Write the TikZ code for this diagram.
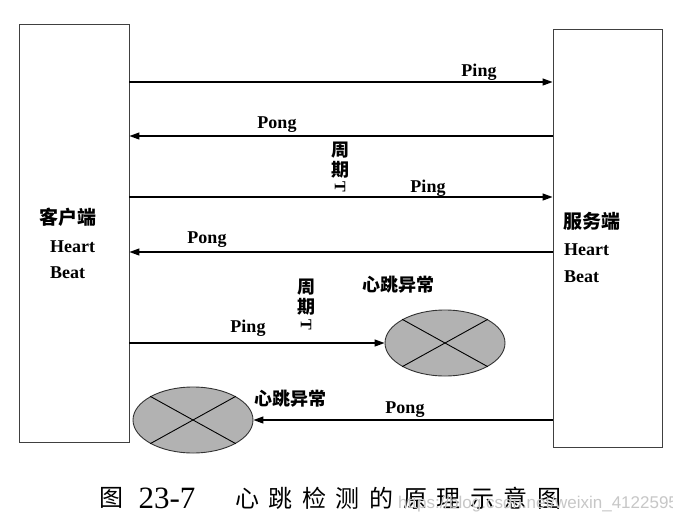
\documentclass[tikz,border=0pt]{standalone}
\usepackage{fontspec}
\setmainfont{Liberation Serif}
\setsansfont{Liberation Sans}
\newfontfamily\cjk{Noto Sans CJK SC}
\newfontfamily\capcjk{Noto Sans CJK SC}[LetterSpace=40]
\usetikzlibrary{arrows.meta,shapes.geometric,positioning}

\begin{document}
\begin{tikzpicture}[x=1pt,y=-1pt,
	box/.style={draw=black!75,line width=0.9pt,minimum width=110pt,minimum height=418pt,inner sep=0pt},
	msg/.style={line width=1.3pt,-{Triangle[length=10pt,width=7pt]}},
	lbl/.style={font=\fontsize{18}{18}\selectfont\bfseries,inner sep=0pt,anchor=base},
	side/.style={anchor=west,inner sep=0pt,font=\fontsize{18}{18}\selectfont\bfseries},
	tag/.style={font=\cjk\bfseries\fontsize{18}{20}\selectfont,inner sep=0pt},
	fail/.style={ellipse,draw=black!80,line width=0.9pt,fill=black!30,minimum width=120pt,minimum height=66pt}]
	\useasboundingbox[fill=white] (0,0) rectangle (673,515);

	\node[box] (client) at (74,233) {};
	\node[box,minimum width=109pt] (server) at (607.5,238) {};

	\node[side,font=\cjk\bfseries\fontsize{19}{19}\selectfont] (cname) at (39,217) {客户端};
	\node[side] (ch) at (50,247) {Heart};
	\node[side] (cb) at (50,273) {Beat};
	\node[side,font=\cjk\bfseries\fontsize{19}{19}\selectfont] (sname) at (563,221) {服务端};
	\node[side] (sh) at (564,250) {Heart};
	\node[side] (sb) at (564,277) {Beat};

	\node[fail] (fail1) at (445,343) {};
	\node[fail] (fail2) at (193,420) {};
	\draw[line width=0.9pt] (fail1.north west) -- (fail1.south east) (fail1.north east) -- (fail1.south west);
	\draw[line width=0.9pt] (fail2.north west) -- (fail2.south east) (fail2.north east) -- (fail2.south west);

	\coordinate (r1) at (0,82);
	\coordinate (r2) at (0,136);
	\coordinate (r3) at (0,197);
	\coordinate (r4) at (0,252);

	\draw[msg] (client.east |- r1) -- (server.west |- r1);
	\draw[msg] (server.west |- r2) -- (client.east |- r2);
	\draw[msg] (client.east |- r3) -- (server.west |- r3);
	\draw[msg] (server.west |- r4) -- (client.east |- r4);
	\draw[msg] (client.east |- fail1.west) -- (fail1.west);
	\draw[msg] (server.west |- fail2.east) -- (fail2.east);

	\node[lbl] (ping1) at (479,76) {Ping};
	\node[lbl] (pong1) at (277,128) {Pong};
	\node[lbl] (ping2) at (428,192) {Ping};
	\node[lbl] (pong2) at (207,243) {Pong};
	\node[lbl] (ping3) at (248,332) {Ping};
	\node[lbl] (pong3) at (405,413) {Pong};

	\node[tag] (alarm1) at (398,285) {心跳异常};
	\node[tag] (alarm2) at (290,399) {心跳异常};

	\node[tag,align=center] (cycle1) at (340,160) {周\\期};
	\node[rotate=-90,inner sep=0pt,font=\fontsize{16}{16}\selectfont\bfseries] (cycleT1) at (340,187) {T};
	\node[tag,align=center] (cycle2) at (306,297) {周\\期};
	\node[rotate=-90,inner sep=0pt,font=\fontsize{16}{16}\selectfont\bfseries] (cycleT2) at (306,325) {T};

	\node[inner sep=0pt,font=\cjk\fontsize{24}{24}\selectfont] (fig) at (111.5,498) {图};
	\node[inner sep=0pt,font=\fontsize{31}{31}\selectfont] (fignum) at (167,498) {23-7};
	\node[anchor=west,inner sep=0pt,font=\capcjk\fontsize{24}{24}\selectfont] (figtitle) at (235,498) {心跳检测的原理示意图};
	\node[anchor=base west,inner sep=0pt,text=black!22,font=\sffamily\fontsize{17}{17}\selectfont] (wm) at (398,508) {https://blog.csdn.net/weixin\_41225950};
\end{tikzpicture}
\end{document}
